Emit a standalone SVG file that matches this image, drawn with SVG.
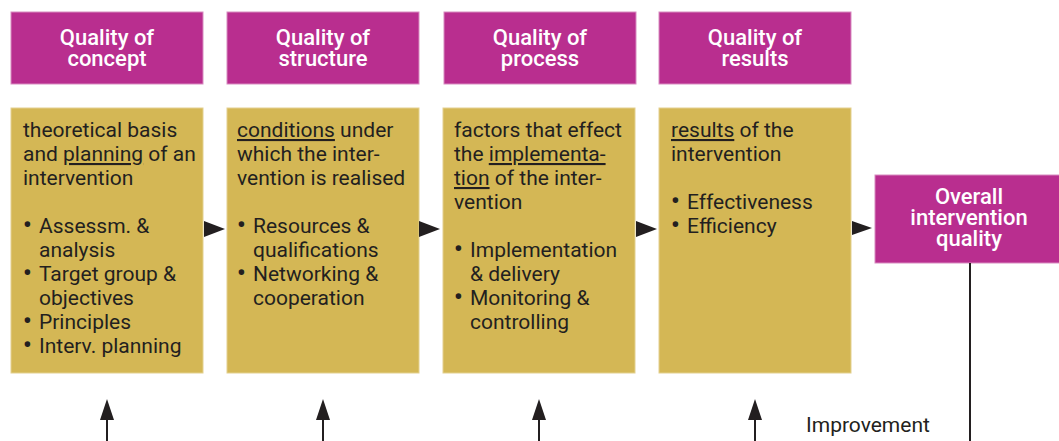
<svg xmlns="http://www.w3.org/2000/svg" width="1059" height="441" viewBox="0 0 1059 441">
<style>
.hdr{fill:#B92E8F;stroke:#D88BC0;stroke-width:1}
.box{fill:#D4B755;stroke:#E3D08F;stroke-width:1}
.ht{font-family:Roboto,"Liberation Sans",sans-serif;font-size:22px;font-weight:500;fill:#ffffff;text-anchor:middle}
.bt{font-family:Roboto,"Liberation Sans",sans-serif;font-size:21px;fill:#231F20}
.b{font-weight:700;font-size:24px}
.u{text-decoration:underline}
.lbl{font-family:Roboto,"Liberation Sans",sans-serif;font-size:21px;fill:#231F20}
.ln{stroke:#231F20;stroke-width:2;fill:none}
.tri{fill:#231F20}
</style>
<g id="h-concept"><rect class="hdr" x="11" y="12" width="192" height="72"/><text class="ht" x="107" y="45">Quality of<tspan x="107" dy="21">concept</tspan></text></g>
<g id="h-structure"><rect class="hdr" x="227" y="12" width="192" height="72"/><text class="ht" x="323" y="45">Quality of<tspan x="323" dy="21">structure</tspan></text></g>
<g id="h-process"><rect class="hdr" x="444" y="12" width="192" height="72"/><text class="ht" x="540" y="45">Quality of<tspan x="540" dy="21">process</tspan></text></g>
<g id="h-results"><rect class="hdr" x="659" y="12" width="192" height="72"/><text class="ht" x="755" y="45">Quality of<tspan x="755" dy="21">results</tspan></text></g>

<g id="b-concept"><rect class="box" x="11" y="108" width="192" height="265"/>
<text class="bt" x="23" y="137">theoretical basis</text>
<text class="bt" x="23" y="161">and <tspan class="u">planning</tspan> of an</text>
<text class="bt" x="23" y="185">intervention</text>
<text class="bt" x="23" y="233"><tspan class="b">•</tspan><tspan x="39">Assessm. &amp;</tspan></text>
<text class="bt" x="39" y="257">analysis</text>
<text class="bt" x="23" y="281"><tspan class="b">•</tspan><tspan x="39">Target group &amp;</tspan></text>
<text class="bt" x="39" y="305">objectives</text>
<text class="bt" x="23" y="329"><tspan class="b">•</tspan><tspan x="39">Principles</tspan></text>
<text class="bt" x="23" y="353"><tspan class="b">•</tspan><tspan x="39">Interv. planning</tspan></text>
</g>
<g id="b-structure"><rect class="box" x="227" y="108" width="192" height="265"/>
<text class="bt" x="237" y="137"><tspan class="u">conditions</tspan> under</text>
<text class="bt" x="237" y="161">which the inter-</text>
<text class="bt" x="237" y="185">vention is realised</text>
<text class="bt" x="237" y="233"><tspan class="b">•</tspan><tspan x="253">Resources &amp;</tspan></text>
<text class="bt" x="253" y="257">qualifications</text>
<text class="bt" x="237" y="281"><tspan class="b">•</tspan><tspan x="253">Networking &amp;</tspan></text>
<text class="bt" x="253" y="305">cooperation</text>
</g>
<g id="b-process"><rect class="box" x="443" y="108" width="192" height="265"/>
<text class="bt" x="454" y="137">factors that effect</text>
<text class="bt" x="454" y="161">the <tspan class="u">implementa-</tspan></text>
<text class="bt" x="454" y="185"><tspan class="u">tion</tspan> of the inter-</text>
<text class="bt" x="454" y="209">vention</text>
<text class="bt" x="454" y="257"><tspan class="b">•</tspan><tspan x="470">Implementation</tspan></text>
<text class="bt" x="470" y="281">&amp; delivery</text>
<text class="bt" x="454" y="305"><tspan class="b">•</tspan><tspan x="470">Monitoring &amp;</tspan></text>
<text class="bt" x="470" y="329">controlling</text>
</g>
<g id="b-results"><rect class="box" x="659" y="108" width="192" height="265"/>
<text class="bt" x="671" y="137"><tspan class="u">results</tspan> of the</text>
<text class="bt" x="671" y="161">intervention</text>
<text class="bt" x="671" y="209"><tspan class="b">•</tspan><tspan x="687">Effectiveness</tspan></text>
<text class="bt" x="671" y="233"><tspan class="b">•</tspan><tspan x="687">Efficiency</tspan></text>
</g>
<g id="overall"><rect class="hdr" x="875" y="175" width="190" height="88"/>
<text class="ht" x="969" y="204">Overall<tspan x="969" dy="21">intervention</tspan><tspan x="969" dy="21">quality</tspan></text></g>

<g id="connectors">
<polygon class="tri" points="204,221 225,229 204,237"/>
<polygon class="tri" points="419,221 440,229 419,237"/>
<polygon class="tri" points="636,221 657,229 636,237"/>
<polygon class="tri" points="852,221 872,228 852,235"/>
<line class="ln" x1="107" y1="418" x2="107" y2="441"/><polygon class="tri" points="107,399 100,420 114,420"/>
<line class="ln" x1="323" y1="418" x2="323" y2="441"/><polygon class="tri" points="323,399 316,420 330,420"/>
<line class="ln" x1="539" y1="418" x2="539" y2="441"/><polygon class="tri" points="539,399 532,420 546,420"/>
<line class="ln" x1="755" y1="418" x2="755" y2="441"/><polygon class="tri" points="755,399 748,420 762,420"/>
<line class="ln" x1="970" y1="263" x2="970" y2="441"/>
<text class="lbl" x="806" y="432">Improvement</text>
</g>
</svg>
